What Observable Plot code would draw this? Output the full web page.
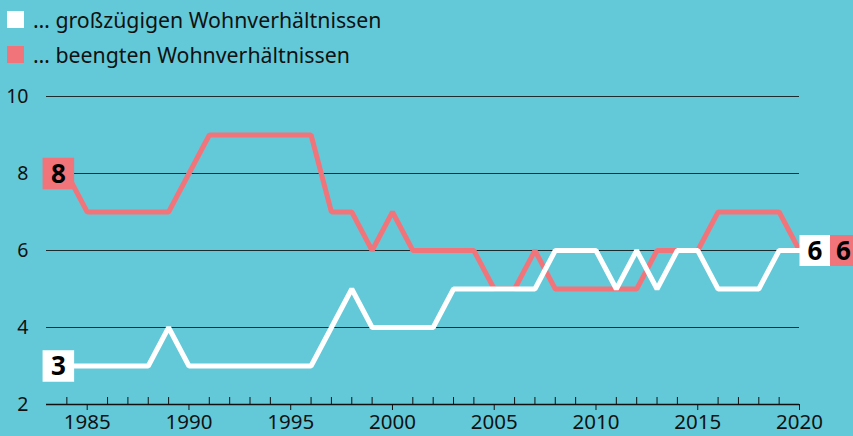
<!DOCTYPE html>
<html>
<head>
<meta charset="utf-8">
<script src="https://cdn.jsdelivr.net/npm/d3@7"></script>
<script src="https://cdn.jsdelivr.net/npm/@observablehq/plot@0.6"></script>
<style>
  html, body { margin: 0; padding: 0; background: #63C9D8; width: 853px; height: 436px; overflow: hidden; }
  #legend { height: 76px; position: relative; font-family: "Noto Sans", sans-serif; font-size: 21.3px; color: #111; }
  .item { position: absolute; left: 7px; display: flex; align-items: center; }
  .sw { width: 17px; height: 17px; margin-right: 9px; }
  svg { display: block; }
</style>
</head>
<body>
<div id="legend"></div>
<div id="chart"></div>
<script>
const years = [1984,1985,1986,1987,1988,1989,1990,1991,1992,1993,1994,1995,1996,1997,1998,1999,2000,2001,2002,2003,2004,2005,2006,2007,2008,2009,2010,2011,2012,2013,2014,2015,2016,2017,2018,2019,2020];
const grosszuegig = [3,3,3,3,3,4,3,3,3,3,3,3,3,4,5,4,4,4,4,5,5,5,5,5,6,6,6,5,6,5,6,6,5,5,5,6,6];
const beengt =      [8,7,7,7,7,7,8,9,9,9,9,9,9,7,7,6,7,6,6,6,6,5,5,6,5,5,5,5,5,6,6,6,7,7,7,7,6];
const seriesNames = ["… großzügigen Wohnverhältnissen", "… beengten Wohnverhältnissen"];
const seriesColors = ["#FFFFFF", "#F2747B"];
const yTicks = [2, 4, 6, 8, 10];
const gridTicks = [4, 6, 8, 10];
const majorYears = [1985, 1990, 1995, 2000, 2005, 2010, 2015, 2020];
const minorYears = [1984,1986,1987,1988,1989,1991,1992,1993,1994,1996,1997,1998,1999,2001,2002,2003,2004,2006,2007,2008,2009,2011,2012,2013,2014,2016,2017,2018,2019];

// legend
const legend = document.getElementById("legend");
seriesNames.forEach((name, i) => {
  const div = document.createElement("div");
  div.className = "item";
  div.style.top = (i === 0 ? 5 : 40) + "px";
  div.innerHTML = `<span class="sw" style="background:${seriesColors[i]}"></span><span>${name}</span>`;
  legend.appendChild(div);
});

const rows = [];
years.forEach((y, i) => {
  rows.push({year: y, value: grosszuegig[i], series: seriesNames[0]});
  rows.push({year: y, value: beengt[i], series: seriesNames[1]});
});
const white = rows.filter(d => d.series === seriesNames[0]);
const red = rows.filter(d => d.series === seriesNames[1]);
const firstW = white[0], firstR = red[0];
const lastW = white[white.length - 1], lastR = red[red.length - 1];

const font = "Noto Sans, sans-serif";
const chart = Plot.plot({
  width: 853,
  height: 360,
  marginLeft: 46,
  marginRight: 54,
  marginTop: 20,
  marginBottom: 32,
  style: {background: "transparent", fontFamily: font, color: "#111", overflow: "visible"},
  x: {domain: [1983, 2020]},
  y: {domain: [2, 10]},
  marks: [
    Plot.ruleY(gridTicks, {stroke: "#111", strokeWidth: 1.2, strokeOpacity: 0.85}),
    Plot.ruleY([2], {stroke: "#111", strokeWidth: 1.5}),
    Plot.axisY({ticks: yTicks, tickSize: 0, tickPadding: 18, fontSize: 19.5, fill: "#111", label: null}),
    Plot.axisX({ticks: majorYears, tickSize: 6, tickPadding: 4, fontSize: 20.5, fill: "#111", stroke: "#111", tickFormat: d => String(d), label: null}),
    Plot.axisX({ticks: minorYears, tickSize: -7, text: null, stroke: "#111", label: null}),
    Plot.line(red, {x: "year", y: "value", stroke: seriesColors[1], strokeWidth: 5, strokeLinejoin: "miter"}),
    Plot.line(white, {x: "year", y: "value", stroke: seriesColors[0], strokeWidth: 5, strokeLinejoin: "miter"}),
    // start labels
    Plot.dot([firstR], {x: "year", y: "value", symbol: "square", r: 17.8, fill: seriesColors[1], stroke: null, dx: -8.5}),
    Plot.dot([firstW], {x: "year", y: "value", symbol: "square", r: 17.8, fill: seriesColors[0], stroke: null, dx: -8.5}),
    Plot.text([firstR, firstW], {x: "year", y: "value", text: d => String(d.value), dx: -8.5, dy: 1, fontSize: 26, fontWeight: "bold", fill: "#000"}),
    // end labels
    Plot.dot([lastW], {x: "year", y: "value", symbol: "square", r: 17.5, fill: seriesColors[0], stroke: null, dx: 15.5}),
    Plot.dot([lastR], {x: "year", y: "value", symbol: "square", r: 17.5, fill: seriesColors[1], stroke: null, dx: 46}),
    Plot.text([lastW], {x: "year", y: "value", text: d => String(d.value), dx: 15.5, dy: 1, fontSize: 26, fontWeight: "bold", fill: "#000"}),
    Plot.text([lastR], {x: "year", y: "value", text: d => String(d.value), dx: 44, dy: 1, fontSize: 26, fontWeight: "bold", fill: "#000"})
  ]
});
document.getElementById("chart").appendChild(chart);
</script>
</body>
</html>
